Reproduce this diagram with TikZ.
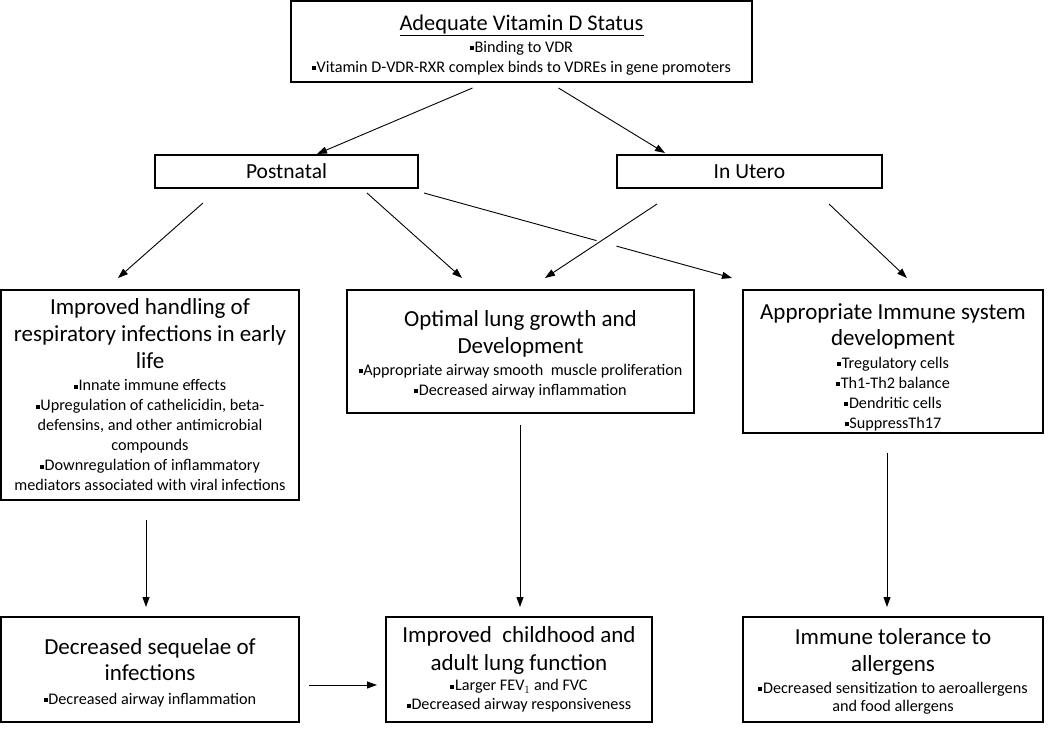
\documentclass[tikz,border=0pt]{standalone}
\usepackage{fontspec}
\setmainfont{Carlito}
\usetikzlibrary{arrows.meta,calc}
\newcommand{\bul}{\rule[0.28ex]{0.5ex}{0.5ex}\hspace{0.05em}}
\newcommand{\ttlsz}{\fontsize{23}{20}\selectfont}
\newcommand{\bulsz}{\fontsize{16.2}{20}\selectfont}
\begin{document}
\begin{tikzpicture}[x=1pt,y=-1pt,
  box/.style={draw, line width=1.1pt, outer sep=0pt, inner sep=0pt, align=center, anchor=center, font=\bulsz},
  arr/.style={-{Triangle[length=10pt,width=7pt]}, line width=0.9pt},
  seg/.style={line width=0.9pt}]
\useasboundingbox (0,0) rectangle (1050,732);

\node[box, minimum width=461pt, minimum height=81pt] (top) at (521.5,41.5)
  {{}\\[2pt]
   {\fontsize{22.4}{20}\selectfont\underline{Adequate Vitamin D Status}}\\[2pt]
   {\bulsz\bul Binding to VDR}\\
   {\bulsz\bul Vitamin D-VDR-RXR complex binds to VDREs in gene promoters}};

\node[box, minimum width=263pt, minimum height=33pt] (post) at (286.5,171.5)
  {{\fontsize{21.5}{20}\selectfont Postnatal}};
\node[box, minimum width=265pt, minimum height=33pt] (utero) at (749.5,171.5)
  {{\fontsize{21.5}{20}\selectfont In Utero}};

\node[box, minimum width=298pt, minimum height=210pt] (A) at (150,395)
  {{\ttlsz Improved handling of}\\[7pt]
   {\ttlsz respiratory infections in early}\\[7pt]
   {\ttlsz life}\\[2pt]
   {\bulsz\bul Innate immune effects}\\
   {\bulsz\bul Upregulation of cathelicidin, beta-}\\
   {\bulsz defensins, and other antimicrobial}\\
   {\bulsz compounds}\\
   {\bulsz\bul Downregulation of inflammatory}\\
   {\bulsz mediators associated with viral infections}};

\node[box, minimum width=347pt, minimum height=123pt] (B) at (520.5,351.5)
  {{}\\[1pt]
   {\ttlsz Optimal lung growth and}\\[7pt]
   {\ttlsz Development}\\[2pt]
   {\bulsz\bul Appropriate airway smooth\ \ muscle proliferation}\\
   {\bulsz\bul Decreased airway inflammation}};

\node[box, minimum width=300pt, minimum height=143pt] (C) at (893,361.5)
  {{}\\[7pt]
   {\ttlsz Appropriate Immune system}\\[6pt]
   {\ttlsz development}\\[3pt]
   {\bulsz\bul Tregulatory cells}\\
   {\bulsz\bul Th1-Th2 balance}\\
   {\bulsz\bul Dendritic cells}\\
   {\bulsz\bul SuppressTh17}};

\node[box, minimum width=298pt, minimum height=105pt] (D) at (150,669.5)
  {{}\\[2pt]
   {\ttlsz Decreased sequelae of}\\[6pt]
   {\ttlsz infections}\\[4pt]
   {\bulsz\bul Decreased airway inflammation}};

\node[box, minimum width=266pt, minimum height=105pt] (E) at (519,669.5)
  {{\ttlsz Improved\ \ childhood and}\\[8pt]
   {\ttlsz adult lung function}\\[0pt]
   {\bulsz\bul Larger FEV$_1$ and FVC}\\[-1pt]
   {\bulsz\bul Decreased airway responsiveness}};

\node[box, minimum width=300pt, minimum height=105pt] (F) at (893,669.5)
  {{}\\[-1pt]
   {\ttlsz Immune tolerance to}\\[7pt]
   {\ttlsz allergens}\\[2pt]
   {\bulsz\bul Decreased sensitization to aeroallergens}\\[-2pt]
   {\bulsz and food allergens}};

% top to second row
\draw[arr] ([xshift=-49pt,yshift=-6pt]top.south) -- ([xshift=30.5pt,yshift=1pt]post.north);
\draw[arr] ([xshift=37pt,yshift=-6pt]top.south) -- ([xshift=-84.5pt,yshift=2pt]utero.north);

% postnatal
\draw[arr] ([xshift=-83.5pt,yshift=-15pt]post.south) -- ([xshift=-32pt,yshift=12pt]A.north);
\draw[arr] ([xshift=80.5pt,yshift=-5pt]post.south) -- ([xshift=-58.5pt,yshift=12pt]B.north);
\coordinate (pcs) at ([xshift=6pt,yshift=-5pt]post.south east);
\coordinate (pce) at ([xshift=-161pt,yshift=12pt]C.north);
\draw[seg] (pcs) -- ($(pcs)!0.56!(pce)$);
\draw[arr] ($(pcs)!0.625!(pce)$) -- (pce);

% in utero
\draw[arr] ([xshift=-92.5pt,yshift=-16pt]utero.south) -- ([xshift=24.5pt,yshift=12pt]B.north);
\draw[arr] ([xshift=79.5pt,yshift=-16pt]utero.south) -- ([xshift=14pt,yshift=12pt]C.north);

% verticals
\draw[arr] ([xshift=-4pt,yshift=-20pt]A.south) -- ([xshift=-4pt,yshift=10pt]D.north);
\draw[arr] ([xshift=-0.5pt,yshift=-12pt]B.south) -- ([xshift=1pt,yshift=10pt]E.north);
\draw[arr] ([xshift=-6pt,yshift=-20pt]C.south) -- ([xshift=-6pt,yshift=10pt]F.north);

% horizontal
\draw[arr] ([xshift=10pt,yshift=-15.5pt]D.east) -- ([xshift=-9pt,yshift=-15.5pt]E.west);
\end{tikzpicture}
\end{document}
